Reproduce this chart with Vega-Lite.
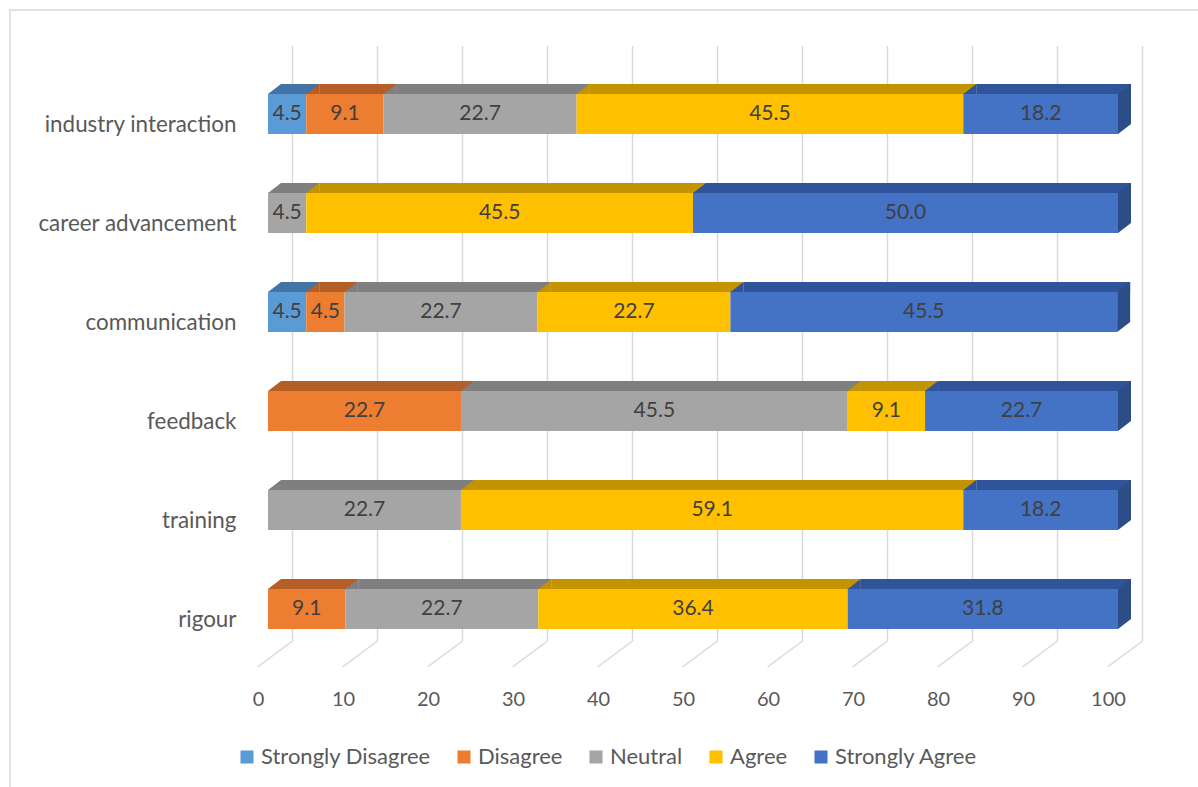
{
  "$schema": "https://vega.github.io/schema/vega-lite/v6.json",
  "autosize": "none",
  "padding": {"left": 10, "top": 10, "right": 0, "bottom": 0},
  "width": 1200,
  "height": 790,
  "background": "white",
  "config": {"view": {"stroke": "#D9D9D9", "strokeWidth": 1.5}, "font": "Lato"},
  "datasets": {
    "main": [
      {"q": "industry interaction", "r": "Strongly Disagree", "v": 4.5},
      {"q": "industry interaction", "r": "Disagree", "v": 9.1},
      {"q": "industry interaction", "r": "Neutral", "v": 22.7},
      {"q": "industry interaction", "r": "Agree", "v": 45.5},
      {"q": "industry interaction", "r": "Strongly Agree", "v": 18.2},
      {"q": "career advancement", "r": "Neutral", "v": 4.5},
      {"q": "career advancement", "r": "Agree", "v": 45.5},
      {"q": "career advancement", "r": "Strongly Agree", "v": 50.0},
      {"q": "communication", "r": "Strongly Disagree", "v": 4.5},
      {"q": "communication", "r": "Disagree", "v": 4.5},
      {"q": "communication", "r": "Neutral", "v": 22.7},
      {"q": "communication", "r": "Agree", "v": 22.7},
      {"q": "communication", "r": "Strongly Agree", "v": 45.5},
      {"q": "feedback", "r": "Disagree", "v": 22.7},
      {"q": "feedback", "r": "Neutral", "v": 45.5},
      {"q": "feedback", "r": "Agree", "v": 9.1},
      {"q": "feedback", "r": "Strongly Agree", "v": 22.7},
      {"q": "training", "r": "Neutral", "v": 22.7},
      {"q": "training", "r": "Agree", "v": 59.1},
      {"q": "training", "r": "Strongly Agree", "v": 18.2},
      {"q": "rigour", "r": "Disagree", "v": 9.1},
      {"q": "rigour", "r": "Neutral", "v": 22.7},
      {"q": "rigour", "r": "Agree", "v": 36.4},
      {"q": "rigour", "r": "Strongly Agree", "v": 31.8}
    ],
    "ticks": [
      {"t": 0}, {"t": 10}, {"t": 20}, {"t": 30}, {"t": 40}, {"t": 50},
      {"t": 60}, {"t": 70}, {"t": 80}, {"t": 90}, {"t": 100}
    ]
  },
  "layer": [
    {
      "data": {"name": "ticks"},
      "mark": {"type": "rule", "color": "#D9D9D9", "strokeWidth": 1.5, "xOffset": 24.5, "x2Offset": 24.5, "yOffset": -48, "y2Offset": 12},
      "encoding": {
        "x": {"field": "t", "type": "quantitative", "scale": {"domain": [0, 100], "range": [258, 1108], "nice": false, "zero": false}},
        "x2": {"field": "t"},
        "y": {"datum": "industry interaction", "type": "nominal", "bandPosition": 0, "scale": {"domain": ["industry interaction", "career advancement", "communication", "feedback", "training", "rigour"], "range": [54.5, 648.5], "paddingInner": 0.596, "paddingOuter": 0.298}},
        "y2": {"datum": "rigour", "bandPosition": 1}
      }
    },
    {
      "data": {"name": "ticks"},
      "mark": {"type": "rule", "color": "#D9D9D9", "strokeWidth": 1.5, "xOffset": 24.5, "x2Offset": -10.5, "yOffset": 12, "y2Offset": 38},
      "encoding": {
        "x": {"field": "t", "type": "quantitative"},
        "x2": {"field": "t"},
        "y": {"datum": "rigour", "type": "nominal", "bandPosition": 1},
        "y2": {"datum": "rigour", "bandPosition": 1}
      }
    },
    {
      "data": {"name": "main"},
      "transform": [
        {"stack": "v", "groupby": ["q"], "as": ["x0", "x1"]},
        {"calculate": "(datum.x0 + datum.x1) / 2", "as": "xm"}
      ],
      "resolve": {"scale": {"color": "independent"}, "legend": {"color": "independent"}},
      "layer": [
        {
          "layer": [
            {
              "mark": {"type": "bar", "height": 10, "yOffset": -25, "xOffset": 13, "x2Offset": 13},
              "encoding": {
                "x": {"field": "x0", "type": "quantitative"},
                "x2": {"field": "x1"},
                "y": {"field": "q", "type": "nominal"},
                "color": {"field": "r", "type": "nominal", "legend": null,
                  "scale": {"domain": ["Strongly Disagree", "Disagree", "Neutral", "Agree", "Strongly Agree"], "range": ["#4374A6", "#B55F26", "#7F7F7F", "#C49300", "#30549A"]}}
              }
            },
            {
              "mark": {"type": "point", "shape": "M0,-2L1.3,-3L1.3,-1.9L0,-1.9Z", "size": 400, "filled": true, "strokeWidth": 0, "opacity": 1},
              "encoding": {
                "x": {"field": "x0", "type": "quantitative"},
                "y": {"field": "q", "type": "nominal"},
                "color": {"field": "r", "type": "nominal", "legend": null}
              }
            }
          ]
        },
        {
          "transform": [{"filter": "datum.r == 'Strongly Agree'"}],
          "mark": {"type": "point", "shape": "M0,-2L1.3,-3L1.3,1L0,2Z", "size": 400, "filled": true, "strokeWidth": 0, "opacity": 1, "color": "#2C4D86"},
          "encoding": {
            "x": {"field": "x1", "type": "quantitative"},
            "y": {"field": "q", "type": "nominal"}
          }
        },
        {
          "mark": {"type": "bar"},
          "encoding": {
            "x": {"field": "x0", "type": "quantitative",
              "axis": {"orient": "bottom", "offset": -95, "ticks": false, "tickSize": 0, "domain": false, "grid": false, "labelPadding": 0, "labelBaseline": "alphabetic", "labelOffset": -10, "labelFontSize": 20, "labelColor": "#595959", "values": [0, 10, 20, 30, 40, 50, 60, 70, 80, 90, 100], "title": null, "labelFlush": false}},
            "x2": {"field": "x1"},
            "y": {"field": "q", "type": "nominal",
              "axis": {"orient": "left", "offset": -226, "ticks": false, "tickSize": 0, "domain": false, "grid": false, "labelPadding": 0, "labelBaseline": "alphabetic", "labelOffset": 18, "labelFontSize": 22.4, "labelColor": "#595959", "labelAlign": "right", "labelLimit": 0, "title": null}},
            "color": {"field": "r", "type": "nominal",
              "scale": {"domain": ["Strongly Disagree", "Disagree", "Neutral", "Agree", "Strongly Agree"], "range": ["#5B9BD5", "#ED7D31", "#A5A5A5", "#FFC000", "#4472C4"]},
              "legend": {"orient": "none", "legendX": 226, "legendY": 736, "direction": "horizontal", "symbolType": "square", "symbolSize": 170, "labelFontSize": 22, "labelLimit": 0, "labelColor": "#595959", "columnPadding": 22, "labelOffset": 3, "title": null, "symbolStrokeWidth": 0, "symbolOpacity": 1}}
          }
        },
        {
          "mark": {"type": "text", "fontSize": 21, "color": "#404040", "baseline": "middle", "align": "center"},
          "encoding": {
            "x": {"field": "xm", "type": "quantitative"},
            "y": {"field": "q", "type": "nominal"},
            "text": {"field": "v", "type": "quantitative", "format": ".1f"}
          }
        }
      ]
    }
  ]
}
